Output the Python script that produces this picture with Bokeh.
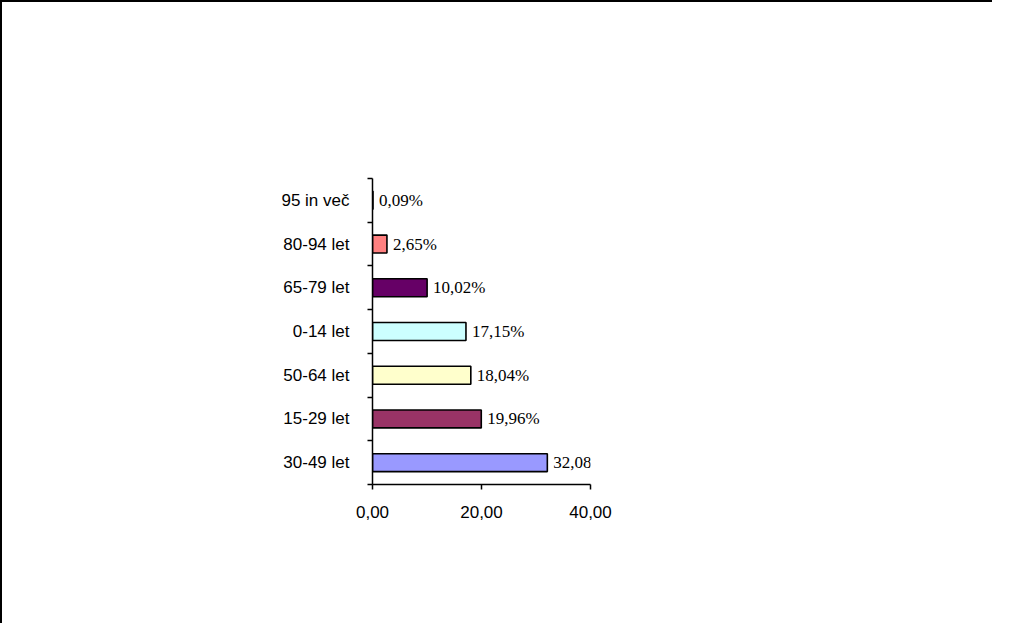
from bokeh.plotting import figure
from bokeh.models import FixedTicker, ColumnDataSource, LabelSet, Label
from bokeh.embed import file_html
from bokeh.resources import INLINE

title = "struktura prebivalstva občine po starostnih skupinah"
categories = ["30-49 let", "15-29 let", "50-64 let", "0-14 let", "65-79 let", "80-94 let", "95 in več"]
values = [32.08, 19.96, 18.04, 17.15, 10.02, 2.65, 0.09]
colors = ["#9999FF", "#993366", "#FFFFCC", "#CCFFFF", "#660066", "#FF8080", "#0066CC"]
x_ticks = [0, 20, 40]
x_tick_labels = ["0,00", "20,00", "40,00"]

FONT = "Liberation Sans"

n = len(categories)
centers = [i + 0.5 for i in range(n)]
bounds = list(range(n + 1))
labels = [f"{v:.2f}".replace(".", ",") + "%" for v in values]

src = ColumnDataSource(dict(y=centers, v=values, c=colors, lab=labels, cat=categories))

p = figure(width=992, height=623, x_range=(0, 40), y_range=(0, n),
           output_backend="svg", toolbar_location=None,
           min_border_left=370, min_border_right=404,
           min_border_top=176, min_border_bottom=141)
p.styles = {"border-left": "2px solid black", "border-top": "2px solid black"}
p.outline_line_color = None
p.xgrid.visible = False
p.ygrid.visible = False
p.background_fill_color = "white"
p.border_fill_color = "white"

p.hbar(y="y", right="v", left=0, height=0.41, fill_color="c",
       line_color="black", line_width=1.6, source=src)

ls = LabelSet(x="v", y="y", text="lab", source=src, x_offset=6,
              text_baseline="middle", text_align="left",
              text_font=FONT, text_font_size="17px", text_color="black")
p.add_layout(ls)

t = Label(x=25.1, y=10.13, text=title, text_align="center", text_baseline="middle",
          text_font=FONT, text_font_size="18px", text_font_style="bold", text_color="black")
p.add_layout(t)

# y axis
ya = p.yaxis[0]
ya.ticker = FixedTicker(ticks=centers, minor_ticks=bounds)
ya.major_label_overrides = {c: cat for c, cat in zip(centers, categories)}
ya.major_tick_line_color = None
ya.major_tick_out = 0
ya.major_tick_in = 0
ya.minor_tick_out = 5
ya.minor_tick_in = 0
ya.minor_tick_line_color = "black"
ya.minor_tick_line_width = 1.5
ya.axis_line_width = 1.5
ya.axis_line_color = "black"
ya.major_label_standoff = 18
ya.major_label_text_font = FONT
ya.major_label_text_font_size = "17px"
ya.major_label_text_color = "black"

xa = p.xaxis[0]
xa.ticker = FixedTicker(ticks=x_ticks, minor_ticks=[])
xa.major_label_overrides = {t_: l for t_, l in zip(x_ticks, x_tick_labels)}
xa.major_tick_out = 5
xa.major_tick_in = 0
xa.major_tick_line_width = 1.5
xa.major_tick_line_color = "black"
xa.axis_line_width = 1.5
xa.axis_line_color = "black"
xa.major_label_standoff = 16
xa.major_label_text_font = FONT
xa.major_label_text_font_size = "17px"
xa.major_label_text_color = "black"

open("out.html", "w").write(file_html(p, INLINE))
